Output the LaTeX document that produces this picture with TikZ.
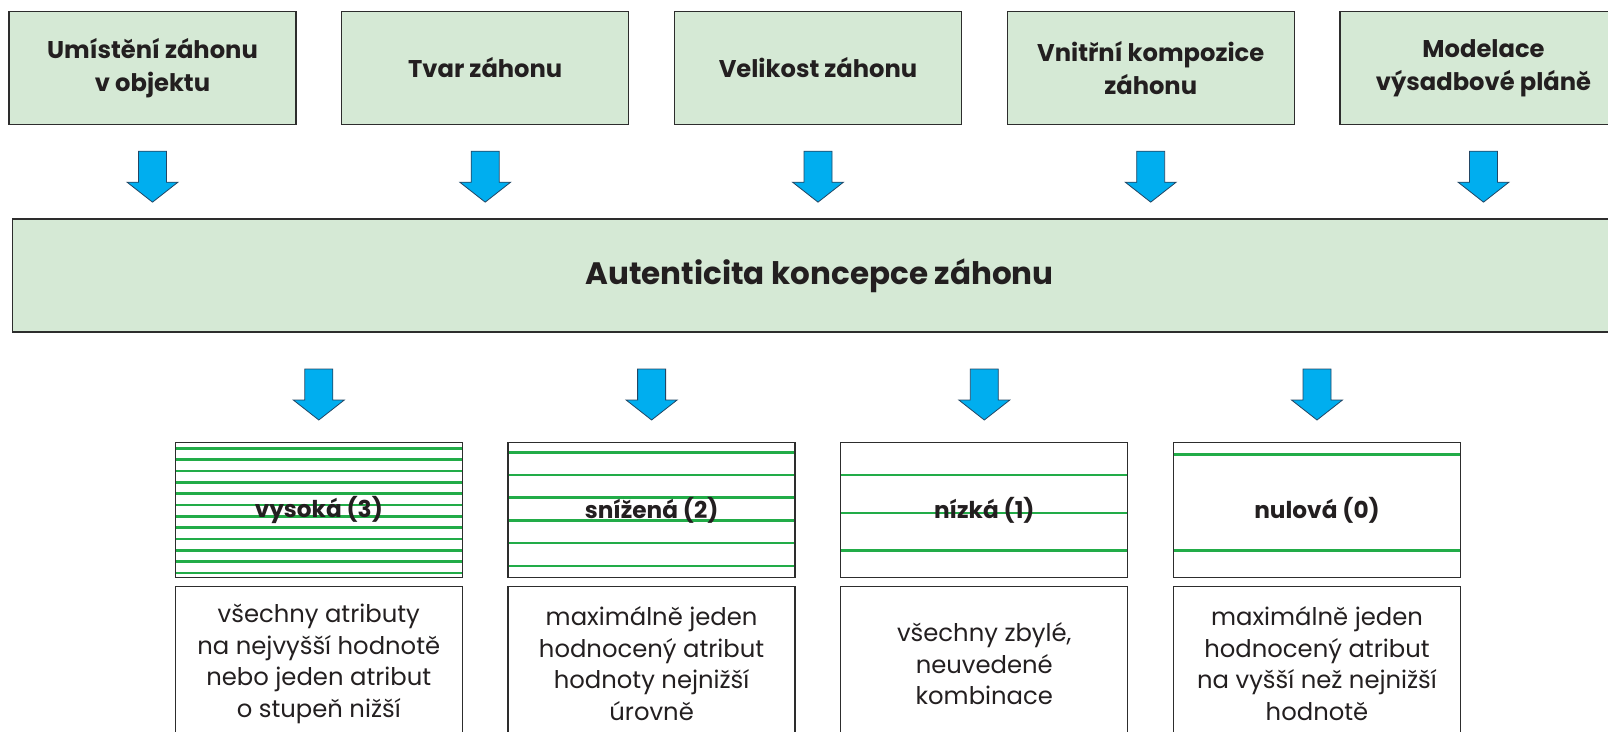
\documentclass[tikz,border=0pt]{standalone}
\usepackage{fontspec}
\setmainfont{Poppins}
\usetikzlibrary{calc}
\definecolor{boxgreen}{RGB}{213,233,213}
\definecolor{linegreen}{RGB}{34,172,72}
\definecolor{arrowblue}{RGB}{0,174,239}
\definecolor{arrowedge}{RGB}{35,70,100}
\definecolor{ink}{RGB}{35,31,32}
\definecolor{frame}{RGB}{45,45,45}
\tikzset{
  topbox/.style={draw=frame, line width=1.3pt, fill=boxgreen, minimum width=287pt, minimum height=112.5pt,
    inner sep=0pt, outer sep=0pt, align=center, text=ink, font=\fontsize{24.2}{33}\selectfont\bfseries},
  bigbox/.style={draw=frame, line width=1.3pt, fill=boxgreen, minimum width=1614.4pt, minimum height=113pt,
    inner sep=0pt, outer sep=0pt, text=ink, font=\fontsize{31}{36}\selectfont\bfseries},
  hatchbox/.style={draw=frame, line width=1.3pt, fill=white, minimum width=287pt, minimum height=135pt,
    inner sep=0pt, outer sep=0pt, text=ink, font=\fontsize{23.2}{28}\selectfont\bfseries,
    path picture={\foreach \o in {#1} {\draw[greenline] ([yshift=-\o pt]path picture bounding box.north west) -- ([yshift=-\o pt]path picture bounding box.north east);}}},
  greenline/.style={draw=linegreen, line width=2.6pt},
  descbox/.style={draw=frame, line width=1.3pt, fill=white, minimum width=287pt, minimum height=154.5pt,
    inner sep=0pt, outer sep=0pt, align=center, text=ink, font=\fontsize{24.3}{31.5}\selectfont},
  blockarrow/.style={fill=arrowblue, draw=arrowedge, line width=0.8pt, line join=miter},
  downarrow/.pic={\path[blockarrow] (-14,0) -- (14,0) -- (14,31) -- (25.5,31) -- (0,51) -- (-25.5,31) -- (-14,31) -- cycle;}
}
\begin{document}
\begin{tikzpicture}[x=1pt,y=-1pt]
\useasboundingbox (0,0) rectangle (1608,731);
\clip (0,0) rectangle (1608,731);
% top boxes
\node[topbox] (t1) at (152.5,67.9) {Umístění záhonu\\v objektu};
\node[topbox] (t2) at (485.2,67.9) {Tvar záhonu};
\node[topbox] (t3) at (818,67.9) {Velikost záhonu};
\node[topbox] (t4) at (1150.7,67.9) {Vnitřní kompozice\\záhonu};
\node[topbox] (t5) at (1483.5,67.9) {Modelace\\výsadbové pláně};
% big box
\node[bigbox] (big) at (819.5,275.5) {Autenticita koncepce záhonu};
% arrows top
\foreach \n in {t1,t2,t3,t4,t5} {
  \pic at ($(\n.south)+(0,27)$) {downarrow};
}
% hatched boxes
\node[hatchbox={5.8,17.13,28.46,39.79,51.12,62.45,73.78,85.11,96.44,107.77,119.1,130.43}] (h1) at (318.8,510) {vysoká (3)};
\node[hatchbox={9.8,32.5,55.2,77.9,100.6,123.3}] (h2) at (651.6,510) {snížená (2)};
\node[hatchbox={32.5,70.3,108.1}] (h3) at (984.3,510) {nízká (1)};
\node[hatchbox={11.8,108.1}] (h4) at (1317,510) {nulová (0)};
% arrows bottom
\foreach \n in {h1,h2,h3,h4} {
  \pic at ($(\n.north)+(0,-73.5)$) {downarrow};
}
% description boxes
\node[descbox] (d1) at (318.8,663.75) {všechny atributy\\na nejvyšší hodnotě\\nebo jeden atribut\\o stupeň nižší};
\node[descbox] (d2) at (651.6,663.75) {maximálně jeden\\hodnocený atribut\\hodnoty nejnižší\\úrovně};
\node[descbox] (d3) at (984.3,663.75) {všechny zbylé,\\neuvedené\\kombinace};
\node[descbox] (d4) at (1317,663.75) {maximálně jeden\\hodnocený atribut\\na vyšší než nejnižší\\hodnotě};
\end{tikzpicture}
\end{document}
